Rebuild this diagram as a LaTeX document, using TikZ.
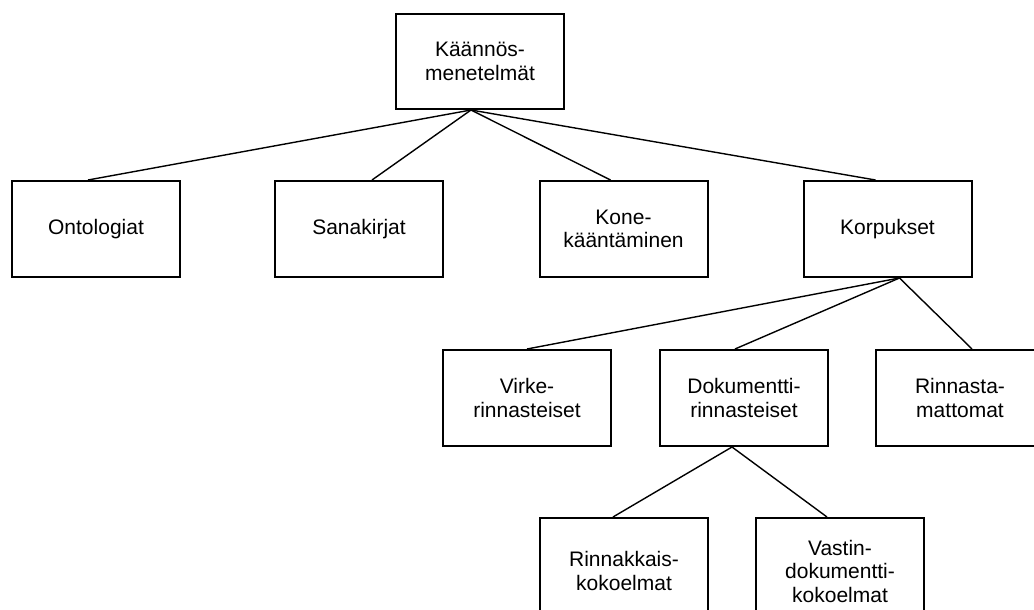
\documentclass[tikz,border=0pt]{standalone}
\usepackage{fontspec}
\setmainfont{Liberation Sans}
\begin{document}
\begin{tikzpicture}[x=1pt, y=-1pt,
    laatikko/.style={draw, line width=2pt, minimum width=168pt, minimum height=96pt,
      inner sep=0pt, align=center, font=\fontsize{21}{23.5}\selectfont},
    viiva/.style={line width=1.4pt}]
    \clip (0,0) rectangle (1034,610);

    % Juuri
    \node[laatikko, minimum height=95pt] (menetelmat) at (480,61.5) {Käännös-\\menetelmät};

    % Ensimmäinen taso
    \node[laatikko] (ontologiat) at (96,229) {Ontologiat};
    \node[laatikko] (sanakirjat) at (359,229) {Sanakirjat};
    \node[laatikko] (konekaannos) at (623.5,229) {Kone-\\kääntäminen};
    \node[laatikko] (korpukset) at (887.5,229) {Korpukset};

    % Korpukset
    \node[laatikko] (virke) at (527,398) {Virke-\\rinnasteiset};
    \node[laatikko] (dokumentti) at (744,398) {Dokumentti-\\rinnasteiset};
    \node[laatikko] (rinnastamattomat) at (960,398) {Rinnasta-\\mattomat};

    % Dokumenttirinnasteiset (alareuna jää kuvan ulkopuolelle)
    \node[laatikko, minimum height=106pt] (rinnakkais) at (624,571) {Rinnakkais-\\kokoelmat};
    \node[laatikko, minimum height=106pt] (vastin) at (840,571) {Vastin-\\dokumentti-\\kokoelmat};

    % Viivat
    \foreach \kohde/\siirto in {ontologiat/-8, sanakirjat/13, konekaannos/-13, korpukset/-12} {
      \draw[viiva] ([xshift=-9pt]menetelmat.south) -- ([xshift=\siirto pt]\kohde.north);
    }
    \foreach \kohde/\siirto in {virke/0, dokumentti/-9, rinnastamattomat/12} {
      \draw[viiva] ([xshift=12pt]korpukset.south) -- ([xshift=\siirto pt]\kohde.north);
    }
    \foreach \kohde/\siirto in {rinnakkais/-11, vastin/-13} {
      \draw[viiva] ([xshift=-12pt]dokumentti.south) -- ([xshift=\siirto pt]\kohde.north);
    }
  \end{tikzpicture}
\end{document}
